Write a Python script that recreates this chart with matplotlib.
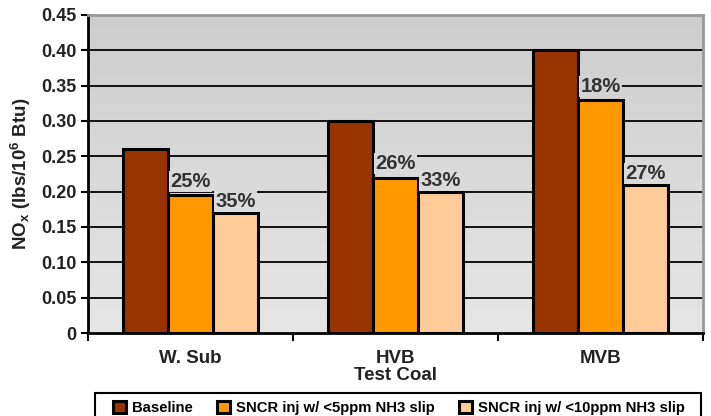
import numpy as np
import matplotlib.pyplot as plt
from matplotlib.colors import LinearSegmentedColormap
from matplotlib.patches import Rectangle

plt.rcParams['font.family'] = ['Liberation Sans', 'DejaVu Sans']
plt.rcParams['font.weight'] = 'bold'
plt.rcParams['axes.labelweight'] = 'bold'
plt.rcParams['mathtext.fontset'] = 'custom'
plt.rcParams['mathtext.rm'] = 'Liberation Sans:bold'
plt.rcParams['mathtext.default'] = 'rm'

coals = ['W. Sub', 'HVB', 'MVB']
series = ['Baseline', 'SNCR inj w/ <5ppm NH3 slip', 'SNCR inj w/ <10ppm NH3 slip']
baseline = [0.26, 0.30, 0.40]
sncr5 = [0.195, 0.22, 0.33]
sncr10 = [0.17, 0.20, 0.21]
pct5 = ['25%', '26%', '18%']
pct10 = ['35%', '33%', '27%']
yticks = [0, 0.05, 0.10, 0.15, 0.20, 0.25, 0.30, 0.35, 0.40, 0.45]
ytick_labels = ['0', '0.05', '0.10', '0.15', '0.20', '0.25', '0.30', '0.35', '0.40', '0.45']

colors = ['#993300', '#ff9900', '#ffcc99']

fig = plt.figure(figsize=(7.11, 4.16), dpi=100)
ax = fig.add_axes([0.1238, 0.1995, 0.8649, 0.7645])

x = np.arange(len(coals))
w = 0.22

# gradient background
grad = np.linspace(0, 1, 256).reshape(-1, 1)
ax.imshow(grad, extent=[-0.5, 2.5, 0, 0.45], aspect='auto', origin='lower',
          cmap=LinearSegmentedColormap.from_list('bg', ['#e6e6e6', '#cdcdcd']), zorder=0)

for y in yticks[1:-1]:
    ax.axhline(y, color='#111111', lw=1.4, zorder=1)

for i, vals in enumerate([baseline, sncr5, sncr10]):
    ax.bar(x + (i - 1) * w, vals, w, color=colors[i], edgecolor='black',
           linewidth=2.2, zorder=3, label=series[i])

def bgcol(v):
    t = v / 0.45
    c0 = np.array([0xe6, 0xe6, 0xe6]) / 255
    c1 = np.array([0xcd, 0xcd, 0xcd]) / 255
    return tuple(c0 + (c1 - c0) * t)

for i in range(len(coals)):
    ax.annotate(pct5[i], (x[i], sncr5[i]), xytext=(0, 3), textcoords='offset points',
                ha='center', va='bottom', fontsize=14.5, color='#333333', zorder=4,
                bbox=dict(boxstyle='square,pad=0.05', fc=bgcol(sncr5[i] + 0.02), ec='none'))
    ax.annotate(pct10[i], (x[i] + w, sncr10[i]), xytext=(0, 1), textcoords='offset points',
                ha='center', va='bottom', fontsize=14.5, color='#333333', zorder=4,
                bbox=dict(boxstyle='square,pad=0.05', fc=bgcol(sncr10[i] + 0.02), ec='none'))

ax.set_xlim(-0.5, 2.5)
ax.set_ylim(0, 0.45)
ax.set_yticks(yticks)
ax.set_yticklabels(ytick_labels, fontsize=13, color='#222222')
ax.set_xticks(x)
ax.set_xticklabels(coals, fontsize=13.5, color='#222222')
ax.set_xticks([-0.5, 0.5, 1.5, 2.5], minor=True)
ax.tick_params(axis='x', which='major', length=0, pad=12)
ax.tick_params(axis='x', which='minor', length=6, width=1.5)
ax.tick_params(axis='y', length=5, width=1.5)

ax.set_xlabel('Test Coal', fontsize=13.5, labelpad=0, color='#222222')
ax.set_ylabel('NO$_\\mathregular{x}$ (lbs/10$^\\mathregular{6}$ Btu)', fontsize=13.5,
              labelpad=6, color='#222222')

for s in ['left', 'bottom']:
    ax.spines[s].set_linewidth(2)
    ax.spines[s].set_color('black')
for s in ['top', 'right']:
    ax.spines[s].set_linewidth(2)
    ax.spines[s].set_color('#999999')

# legend box, running off the bottom edge
fig.patches.append(Rectangle((95 / 711, -0.05), 606 / 711, 0.05 + 23 / 416,
                             transform=fig.transFigure, fill=False, ec='black', lw=1.5))
fig.legend(loc='center', bbox_to_anchor=(399 / 711, 1 - 408 / 416), ncol=3,
           fontsize=10.7, frameon=False, handlelength=0.9, handleheight=0.9,
           borderaxespad=0, borderpad=0, handletextpad=0.4, columnspacing=1.6)

fig.savefig('out.png', dpi=100)
